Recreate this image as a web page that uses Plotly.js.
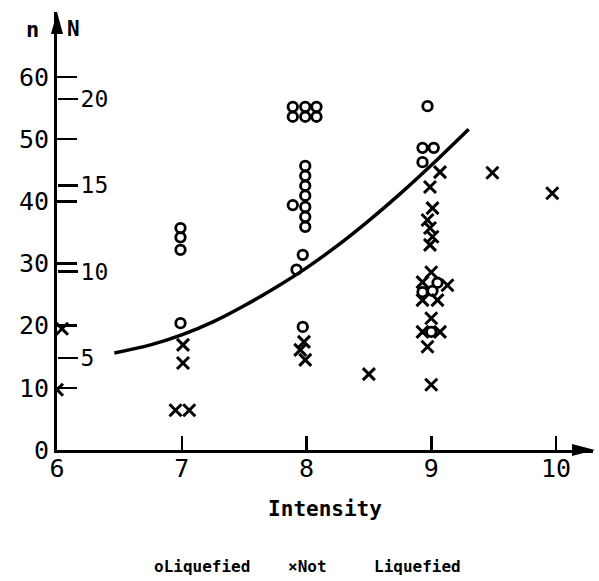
<!DOCTYPE html>
<html>
<head>
<meta charset="utf-8">
<script src="https://cdn.plot.ly/plotly-3.0.1.min.js"></script>
<style>html,body{margin:0;padding:0;background:#fff;}#chart{width:599px;height:581px;}</style>
</head>
<body>
<div id="chart"></div>
<script>
// Liquefied sites (circles): intensity, n
const liqX = [6.99, 6.99, 6.99, 6.99,
  7.89, 7.99, 8.08, 7.89, 7.99, 8.08,
  7.99, 7.99, 7.99, 7.99, 7.99, 7.99, 7.99, 7.89,
  7.97, 7.92, 7.97,
  8.97, 8.93, 9.02, 8.93,
  9.05, 8.93, 9.01, 9.00];
const liqN = [35.7, 34.2, 32.2, 20.4,
  55.2, 55.2, 55.2, 53.6, 53.6, 53.6,
  45.7, 44.1, 42.5, 40.9, 39.1, 37.5, 35.9, 39.4,
  31.4, 29.0, 19.8,
  55.3, 48.6, 48.6, 46.3,
  26.9, 25.4, 25.6, 19.0];

// Not liquefied sites (crosses): intensity, n
const notX = [6.04, 6.00,
  7.01, 7.01, 6.95, 7.06,
  7.98, 7.95, 7.99,
  8.50,
  9.07, 8.99, 9.01, 8.97, 8.99, 9.01, 8.99,
  9.00, 8.93, 9.13, 8.93, 9.05,
  9.00, 8.93, 9.07, 8.97, 9.00,
  9.49, 9.97];
const notN = [19.5, 9.7,
  16.9, 14.0, 6.4, 6.4,
  17.4, 16.1, 14.5,
  12.2,
  44.7, 42.3, 38.9, 37.0, 35.7, 34.3, 33.0,
  28.6, 27.0, 26.5, 24.1, 24.1,
  21.2, 19.0, 19.0, 16.6, 10.5,
  44.6, 41.3];

// Boundary curve
const curveX = [6.46, 6.75, 7.0, 7.25, 7.5, 7.75, 8.0, 8.25, 8.5, 8.75, 9.0, 9.3];
const curveN = [15.6, 16.9, 18.5, 20.6, 23.2, 26.1, 29.3, 32.9, 36.9, 41.2, 45.8, 51.6];

// Tick labels
const xTicks = [6, 7, 8, 9, 10];
const nTicks = [0, 10, 20, 30, 40, 50, 60];
const NTicks = [5, 10, 15, 20];

const FONT = 'DejaVu Sans Mono, monospace';

const traces = [
  {x: curveX, y: curveN, type: 'scatter', mode: 'lines', line: {color: '#000', width: 3.5, shape: 'spline', smoothing: 1}, showlegend: false, hoverinfo: 'skip'},
  {x: liqX, y: liqN, type: 'scatter', mode: 'markers', name: 'Liquefied',
   marker: {symbol: 'circle-open', size: 9.5, color: '#000', line: {width: 2.8, color: '#000'}}},
  {x: notX, y: notN, type: 'scatter', mode: 'markers', name: 'Not Liquefied',
   marker: {symbol: 'x-thin-open', size: 12, color: '#000', line: {width: 3, color: '#000'}}},
  {x: [6], y: [NTicks[0]], yaxis: 'y2', type: 'scatter', mode: 'markers', marker: {opacity: 0}, showlegend: false, hoverinfo: 'skip'}
];

const layout = {
  width: 599, height: 581,
  margin: {l: 57, r: 6, t: 12, b: 131},
  paper_bgcolor: '#fff', plot_bgcolor: '#fff',
  showlegend: false,
  font: {family: FONT, color: '#000'},
  xaxis: {
    range: [6, 10.2966], tickvals: xTicks, ticktext: xTicks.map(String),
    ticks: 'inside', ticklen: 14, tickwidth: 2.5, tickcolor: '#000',
    showline: true, linewidth: 3, linecolor: '#000', mirror: false,
    showgrid: false, zeroline: false,
    tickfont: {family: FONT, size: 25, color: '#000'},
    ticklabelstandoff: -6,
    title: {text: 'Intensity', font: {family: FONT, size: 21, color: '#000', weight: 'bold'}, standoff: 20}
  },
  yaxis: {
    range: [0, 70.45], tickvals: nTicks, ticktext: nTicks.map(String),
    ticks: 'inside', ticklen: 20, tickwidth: 2.5, tickcolor: '#000',
    showline: true, linewidth: 3, linecolor: '#000',
    showgrid: false, zeroline: false,
    tickfont: {family: FONT, size: 25, color: '#000'}
  },
  yaxis2: {
    overlaying: 'y', side: 'right', anchor: 'free', position: 0,
    range: [-0.318, 25.03], tickvals: NTicks, ticktext: NTicks.map(String),
    ticks: 'outside', ticklen: 20, tickwidth: 2.5, tickcolor: '#000',
    showline: false, showgrid: false, zeroline: false,
    tickfont: {family: FONT, size: 23, color: '#000'},
    ticklabelstandoff: -2
  },
  shapes: [
    {type: 'path', xref: 'paper', yref: 'paper', path: 'M0,1 L0.0112,0.9498 L-0.0112,0.9498 Z', fillcolor: '#000', line: {width: 0}},
    {type: 'path', xref: 'paper', yref: 'paper', path: 'M1.0037,0 L0.9608,0.0137 L0.9608,-0.0137 Z', fillcolor: '#000', line: {width: 0}}
  ],
  annotations: [
    {xref: 'paper', yref: 'paper', x: -0.0448, y: 0.961, text: 'n', showarrow: false, font: {family: FONT, size: 22, color: '#000', weight: 'bold'}, xanchor: 'center', yanchor: 'middle'},
    {xref: 'paper', yref: 'paper', x: 0.030, y: 0.961, text: 'N', showarrow: false, font: {family: FONT, size: 21, color: '#000', weight: 'bold'}, xanchor: 'center', yanchor: 'middle'},
    {xref: 'paper', yref: 'paper', x: 0.177, y: -0.267, text: 'oLiquefied', showarrow: false, font: {family: FONT, size: 16, color: '#000', weight: 'bold'}, xanchor: 'left', yanchor: 'middle'},
    {xref: 'paper', yref: 'paper', x: 0.427, y: -0.267, text: '×Not', showarrow: false, font: {family: FONT, size: 16, color: '#000', weight: 'bold'}, xanchor: 'left', yanchor: 'middle'},
    {xref: 'paper', yref: 'paper', x: 0.588, y: -0.267, text: 'Liquefied', showarrow: false, font: {family: FONT, size: 16, color: '#000', weight: 'bold'}, xanchor: 'left', yanchor: 'middle'}
  ]
};

Plotly.newPlot('chart', traces, layout, {staticPlot: true, displayModeBar: false});
</script>
</body>
</html>
